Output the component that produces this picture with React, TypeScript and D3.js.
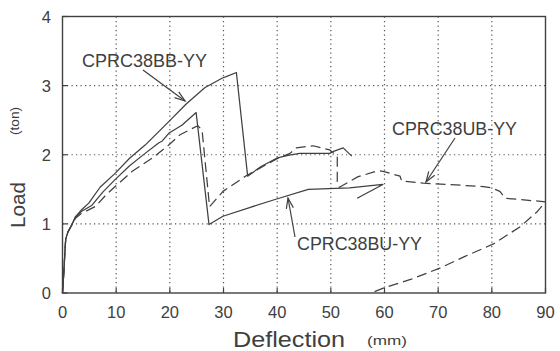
import React from "react";
import * as d3 from "d3";

const xTicks = [0, 10, 20, 30, 40, 50, 60, 70, 80, 90];
const yTicks = [0, 1, 2, 3, 4];

// CPRC38BB-YY (solid, upper)
const seriesBB: [number, number][] = [
  [0, 0], [0.25, 0.3], [0.45, 0.6], [0.6, 0.78], [1, 0.88], [1.7, 0.98], [2.4, 1.1], [3.5, 1.2],
  [4.9, 1.3], [7, 1.53], [9.8, 1.73], [12.5, 1.95], [15.4, 2.14], [19.8, 2.48], [23, 2.73],
  [26.5, 2.97], [29.8, 3.11], [30.5, 3.13], [32.4, 3.19], [34.5, 1.69], [37, 1.83], [39.9, 1.95],
  [42, 1.99], [44.2, 2.02], [49.8, 2.02], [50.5, 2.05], [52.3, 2.1], [53.9, 1.98],
];

// CPRC38BU-YY (solid, middle)
const seriesBU: [number, number][] = [
  [0, 0], [0.25, 0.3], [0.45, 0.6], [0.6, 0.78], [1, 0.88], [1.7, 0.98], [2.4, 1.1], [3.5, 1.18],
  [5.5, 1.27], [7.5, 1.46], [9.8, 1.64], [12.5, 1.84], [15.4, 2.02], [17.9, 2.17], [18.6, 2.2],
  [19.8, 2.31], [22.3, 2.43], [24.9, 2.61], [27.3, 0.99], [29.9, 1.11], [35, 1.24], [39.9, 1.36],
  [45.8, 1.5], [53.5, 1.52], [59.7, 1.57], [54.9, 1.37],
];

// CPRC38UB-YY (dashed)
const seriesUB: [number, number][] = [
  [0, 0], [0.25, 0.3], [0.45, 0.6], [0.6, 0.78], [1, 0.88], [1.7, 0.98], [2.4, 1.08], [3.5, 1.15],
  [6.1, 1.25], [8, 1.41], [9.8, 1.54], [13, 1.76], [16.7, 1.95], [19.8, 2.14], [21.9, 2.29],
  [25.2, 2.42], [26.0, 2.36], [27.4, 1.25], [29.9, 1.47], [34.3, 1.7], [39.9, 1.94], [42.4, 2.02],
  [43.6, 2.1], [46.7, 2.13], [49.8, 2.07], [51.2, 1.98], [51.2, 1.61], [51.6, 1.53], [55, 1.68],
  [58.8, 1.77], [59.7, 1.76], [62.9, 1.69], [63.2, 1.62], [67.2, 1.59], [78.4, 1.54], [80, 1.52],
  [81.5, 1.47], [82.5, 1.37], [90, 1.32], [88.5, 1.18], [85.3, 0.96], [80.3, 0.71], [75, 0.53],
  [70.3, 0.36], [65, 0.2], [60.1, 0.08], [57.5, 0],
];

const labels = [
  { text: "CPRC38BB-YY", x: 82, y: 66.5, from: [143, 70], to: [185, 101] },
  { text: "CPRC38UB-YY", x: 392, y: 135, from: [455, 138], to: [426, 182] },
  { text: "CPRC38BU-YY", x: 297, y: 250, from: [295, 237], to: [288, 198] },
];

const INK = "#404040";
const FONT = "'Liberation Sans', Arial, sans-serif";

function Arrow({ from, to }: { from: number[]; to: number[] }) {
  const ang = Math.atan2(to[1] - from[1], to[0] - from[0]);
  const len = 11;
  const spread = 0.33;
  const a1 = [to[0] - len * Math.cos(ang - spread), to[1] - len * Math.sin(ang - spread)];
  const a2 = [to[0] - len * Math.cos(ang + spread), to[1] - len * Math.sin(ang + spread)];
  return (
    <g stroke={INK} strokeWidth={1.2} fill="none">
      <line x1={from[0]} y1={from[1]} x2={to[0]} y2={to[1]} />
      <polyline points={`${a1[0]},${a1[1]} ${to[0]},${to[1]} ${a2[0]},${a2[1]}`} />
    </g>
  );
}

export default function App() {
  const W = 560;
  const H = 351;
  const x = d3.scaleLinear().domain([0, 90]).range([62.5, 545.5]);
  const y = d3.scaleLinear().domain([0, 4]).range([293, 16.5]);
  const line = d3
    .line<[number, number]>()
    .x((d) => x(d[0]))
    .y((d) => y(d[1]));

  return (
    <svg
      width={W}
      height={H}
      style={{ position: "absolute", left: 0, top: 0, background: "#fff" }}
      fontFamily={FONT}
    >
      <rect x={0} y={0} width={W} height={H} fill="#fff" />
      {/* grid */}
      <g stroke="#555" strokeWidth={1.2} strokeDasharray="1.2 3.3">
        {xTicks.slice(1, -1).map((t) => (
          <line key={"gx" + t} x1={x(t)} x2={x(t)} y1={y(4)} y2={y(0)} />
        ))}
        {yTicks.slice(1, -1).map((t) => (
          <line key={"gy" + t} x1={x(0)} x2={x(90)} y1={y(t)} y2={y(t)} />
        ))}
      </g>
      {/* ticks */}
      <g stroke={INK} strokeWidth={1.2}>
        {xTicks.map((t) => (
          <line key={"tx" + t} x1={x(t)} x2={x(t)} y1={y(0)} y2={y(0) - 5} />
        ))}
        {yTicks.map((t) => (
          <line key={"ty" + t} x1={x(0)} x2={x(0) + 5} y1={y(t)} y2={y(t)} />
        ))}
      </g>
      {/* frame */}
      <rect
        x={x(0)}
        y={y(4)}
        width={x(90) - x(0)}
        height={y(0) - y(4)}
        fill="none"
        stroke={INK}
        strokeWidth={1.4}
      />
      {/* tick labels */}
      <g fill={INK} fontSize={16.5}>
        {xTicks.map((t) => (
          <text key={"lx" + t} x={x(t)} y={318.3} textAnchor="middle">
            {t}
          </text>
        ))}
        {yTicks.map((t) => (
          <text key={"ly" + t} x={51} y={y(t) + 6} textAnchor="end">
            {t}
          </text>
        ))}
      </g>
      {/* axis titles */}
      <text x={233} y={346.5} fontSize={21.5} fill={INK} textLength={112} lengthAdjust="spacingAndGlyphs">
        Deflection
      </text>
      <text x={367} y={345} fontSize={13.5} fill={INK} textLength={40} lengthAdjust="spacingAndGlyphs">
        (mm)
      </text>
      <text
        transform="translate(24.5,228) rotate(-90)"
        fontSize={21}
        fill={INK}
        textLength={46}
        lengthAdjust="spacingAndGlyphs"
      >
        Load
      </text>
      <text
        transform="translate(19,135) rotate(-90)"
        fontSize={13}
        fill={INK}
        textLength={28}
        lengthAdjust="spacingAndGlyphs"
      >
        (ton)
      </text>
      {/* series */}
      <g fill="none" stroke={INK} strokeWidth={1.25} strokeLinejoin="round">
        <path d={line(seriesBB) || ""} />
        <path d={line(seriesBU) || ""} />
        <path d={line(seriesUB) || ""} strokeDasharray="10 5" />
      </g>
      {/* annotations */}
      {labels.map((l) => (
        <g key={l.text}>
          <text
            x={l.x}
            y={l.y}
            fontSize={17.5}
            fill={INK}
            textLength={125}
            lengthAdjust="spacingAndGlyphs"
          >
            {l.text}
          </text>
          <Arrow from={l.from} to={l.to} />
        </g>
      ))}
    </svg>
  );
}
